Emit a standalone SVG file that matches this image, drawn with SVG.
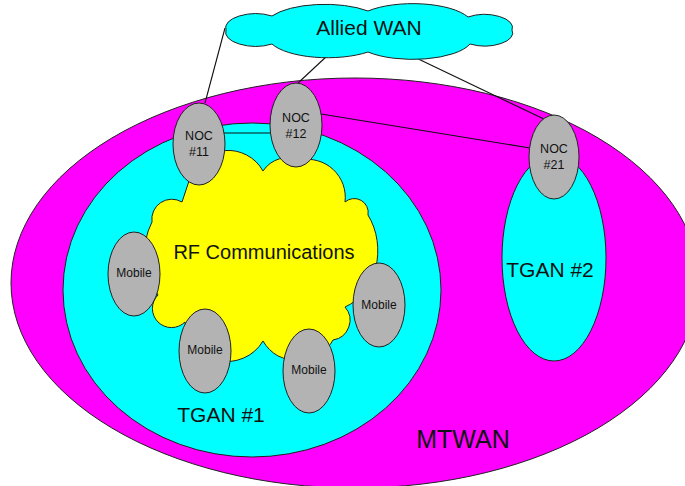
<svg xmlns="http://www.w3.org/2000/svg" width="685" height="486" viewBox="0 0 685 486">
<style>
.o{stroke:#222;stroke-width:1}
.node{fill:#b3b3b3;stroke:#222;stroke-width:1}
.t{font-family:"Liberation Sans",Arial,sans-serif;fill:#111;text-anchor:middle}
.c{stroke:#111;stroke-width:1.1;fill:none}
</style>
<rect width="685" height="486" fill="#fff"/>
<g id="mtwan">
<ellipse class="o" cx="355" cy="283" rx="344" ry="205" fill="#ff00ff"/>
<text class="t" x="463" y="448" font-size="25">MTWAN</text>
</g>
<g id="tgan1">
<ellipse class="o" cx="252" cy="290" rx="189" ry="167" fill="#00ffff"/>
<text class="t" x="221" y="422" font-size="21">TGAN #1</text>
</g>
<g id="tgan2">
<ellipse class="o" cx="554" cy="258" rx="52" ry="103" fill="#00ffff"/>
<text class="t" x="550" y="277" font-size="21">TGAN #2</text>
</g>
<g id="connectors">
<line class="c" x1="225" y1="28" x2="205" y2="103"/>
<line class="c" x1="327" y1="56" x2="298" y2="83"/>
<line class="c" x1="410" y1="55" x2="546" y2="120"/>
<line class="c" x1="223" y1="133" x2="271" y2="133"/>
<line class="c" x1="321" y1="114" x2="530" y2="148"/>
</g>
<g id="rf">
<path class="o" fill="#ffff00" d="M190,178 A40,40 0 0 1 263,171 A30,30 0 0 1 300,160 A38,38 0 0 1 345,202 A14,14 0 0 1 368,215 A50,60 0 0 1 345,307 A20,20 0 0 1 333,340 A40,40 0 0 1 263,341 A42,42 0 0 1 185,322 A18,18 0 0 1 158,295 A70,70 0 0 1 152,222 A20,20 0 0 1 182,202 Z"/>
<text class="t" x="264" y="259" font-size="20">RF Communications</text>
</g>
<g id="allied-wan">
<path class="o" fill="#00ffff" d="M226,30 A30,14 0 0 1 272,16 A60,22 0 0 1 368,11 A60,22 0 0 1 468,17 A28,13 0 0 1 512,30 A28,13 0 0 1 470,44 A60,22 0 0 1 368,52 A60,22 0 0 1 272,44 A30,14 0 0 1 226,30 Z"/>
<text class="t" x="369" y="35" font-size="21">Allied WAN</text>
</g>
<g id="noc11">
<ellipse class="node" cx="199" cy="144" rx="26" ry="41"/>
<text class="t" x="199" y="140" font-size="12.5">NOC</text>
<text class="t" x="199" y="156" font-size="12.5">#11</text>
</g>
<g id="noc12">
<ellipse class="node" cx="296" cy="125" rx="26" ry="42"/>
<text class="t" x="296" y="122" font-size="12.5">NOC</text>
<text class="t" x="296" y="138" font-size="12.5">#12</text>
</g>
<g id="noc21">
<ellipse class="node" cx="554" cy="157" rx="25" ry="42"/>
<text class="t" x="554" y="153" font-size="12.5">NOC</text>
<text class="t" x="554" y="169" font-size="12.5">#21</text>
</g>
<g id="mobile1">
<ellipse class="node" cx="134" cy="274" rx="26" ry="42"/>
<text class="t" x="134" y="277" font-size="12">Mobile</text>
</g>
<g id="mobile2">
<ellipse class="node" cx="379" cy="305" rx="26" ry="42"/>
<text class="t" x="379" y="309" font-size="12">Mobile</text>
</g>
<g id="mobile3">
<ellipse class="node" cx="205" cy="351" rx="26" ry="42"/>
<text class="t" x="205" y="354" font-size="12">Mobile</text>
</g>
<g id="mobile4">
<ellipse class="node" cx="309" cy="371" rx="26" ry="42"/>
<text class="t" x="309" y="374" font-size="12">Mobile</text>
</g>
</svg>
